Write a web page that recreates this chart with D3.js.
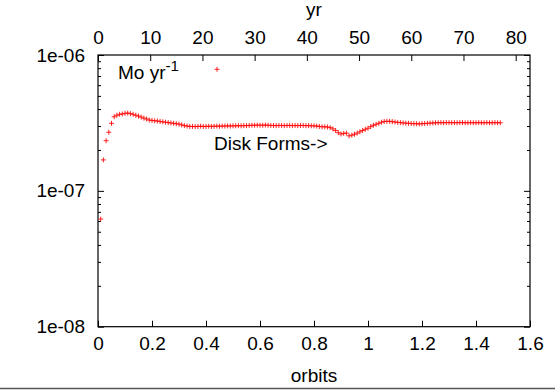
<!DOCTYPE html>
<html>
<head>
<meta charset="utf-8">
<script src="https://cdn.jsdelivr.net/npm/d3@7"></script>
<style>
  html, body { margin: 0; padding: 0; background: #fff; }
  svg { display: block; }
  text { font-family: "Liberation Sans", Arial, Helvetica, sans-serif; fill: #000; }
</style>
</head>
<body>
<div id="chart"></div>
<script>
// ---- data ----
const orbits = [
  0.01,0.02,0.03,0.04,0.05,0.06,0.07,0.08,0.09,0.10,
  0.11,0.12,0.13,0.14,0.15,0.16,0.17,0.18,0.19,0.20,
  0.21,0.22,0.23,0.24,0.25,0.26,0.27,0.28,0.29,0.30,
  0.31,0.32,0.33,0.34,0.35,0.36,0.37,0.38,0.39,0.40,
  0.41,0.42,0.43,0.44,0.45,0.46,0.47,0.48,0.49,0.50,
  0.51,0.52,0.53,0.54,0.55,0.56,0.57,0.58,0.59,0.60,
  0.61,0.62,0.63,0.64,0.65,0.66,0.67,0.68,0.69,0.70,
  0.71,0.72,0.73,0.74,0.75,0.76,0.77,0.78,0.79,0.80,
  0.81,0.82,0.83,0.84,0.85,0.86,0.87,0.88,0.89,0.90,
  0.91,0.92,0.93,0.94,0.95,0.96,0.97,0.98,0.99,1.00,
  1.01,1.02,1.03,1.04,1.05,1.06,1.07,1.08,1.09,1.10,
  1.11,1.12,1.13,1.14,1.15,1.16,1.17,1.18,1.19,1.20,
  1.21,1.22,1.23,1.24,1.25,1.26,1.27,1.28,1.29,1.30,
  1.31,1.32,1.33,1.34,1.35,1.36,1.37,1.38,1.39,1.40,
  1.41,1.42,1.43,1.44,1.45,1.46,1.47,1.48,1.49
];
// accretion rate in units of 1e-7 Mo/yr
const mdotE7 = [
  0.62,1.69,2.34,2.70,3.14,3.51,3.60,3.66,3.68,3.72,
  3.74,3.70,3.66,3.60,3.55,3.49,3.43,3.38,3.32,3.30,
  3.28,3.27,3.24,3.22,3.20,3.18,3.16,3.14,3.12,3.10,
  3.06,3.02,3.00,2.98,2.98,2.97,2.98,2.99,2.98,2.98,
  2.99,2.98,2.99,3.00,2.99,3.00,3.00,3.01,3.00,3.01,
  3.01,3.02,3.01,3.02,3.02,3.03,3.04,3.04,3.05,3.04,
  3.04,3.05,3.04,3.03,3.03,3.02,3.03,3.03,3.02,3.03,
  3.03,3.02,3.03,3.02,3.03,3.03,3.02,3.02,3.01,3.01,
  3.00,2.98,2.96,2.96,2.95,2.92,2.86,2.78,2.68,2.62,
  2.65,2.66,2.54,2.57,2.61,2.66,2.72,2.78,2.84,2.89,
  2.97,3.04,3.09,3.14,3.20,3.24,3.25,3.25,3.23,3.21,
  3.19,3.18,3.16,3.15,3.14,3.13,3.12,3.12,3.11,3.12,
  3.13,3.14,3.15,3.16,3.17,3.17,3.18,3.17,3.18,3.18,
  3.17,3.18,3.17,3.18,3.18,3.17,3.17,3.18,3.17,3.17,
  3.18,3.17,3.17,3.18,3.17,3.17,3.18,3.17,3.17
];
const unit = 1e-7;
const xTicks = [0, 0.2, 0.4, 0.6, 0.8, 1, 1.2, 1.4, 1.6];
const x2Ticks = [0, 10, 20, 30, 40, 50, 60, 70, 80];
const yTicks = [1e-8, 1e-7, 1e-6];
const yTickLabels = ["1e-08", "1e-07", "1e-06"];
const xDomain = [0, 1.6];
const x2Domain = [0, 82.74];
const yDomain = [1e-8, 1e-6];
const xLabel = "orbits";
const x2Label = "yr";
const keyText = "Mo yr";
const keySup = "-1";
const annotation = "Disk Forms->";

// ---- layout ----
const W = 555, H = 390;
const L = 98, R = 530, T = 55, B = 326.7;
const FS = 19;

const svg = d3.select("#chart").append("svg").attr("width", W).attr("height", H);

const x = d3.scaleLinear().domain(xDomain).range([L, R]);
const x2 = d3.scaleLinear().domain(x2Domain).range([L, R]);
const y = d3.scaleLog().domain(yDomain).range([B, T]);

// minor log ticks
const yMinor = [];
[1e-8, 1e-7].forEach(d => { for (let k = 2; k <= 9; k++) yMinor.push(d * k); });

function styleAxis(g) {
  g.select(".domain").remove();
  g.selectAll(".tick line").attr("stroke", "#000").attr("stroke-width", 1);
  g.selectAll(".tick text").attr("font-size", FS).attr("fill", "#000")
    .attr("font-family", '"Liberation Sans", Arial, Helvetica, sans-serif');
}

// bottom axis
svg.append("g").attr("transform", `translate(0,${B})`)
  .call(d3.axisBottom(x).tickValues(xTicks).tickSizeInner(-6).tickSizeOuter(0).tickPadding(10)
    .tickFormat(d3.format("~g")))
  .call(styleAxis);

// top axis
svg.append("g").attr("transform", `translate(0,${T})`)
  .call(d3.axisTop(x2).tickValues(x2Ticks).tickSizeInner(-6).tickSizeOuter(0).tickPadding(11.5)
    .tickFormat(d3.format("d")))
  .call(styleAxis);

// left axis major + minor
svg.append("g").attr("transform", `translate(${L},0)`)
  .call(d3.axisLeft(y).tickValues(yTicks).tickSizeInner(-6).tickSizeOuter(0).tickPadding(13)
    .tickFormat((d, i) => yTickLabels[i]))
  .call(styleAxis);
svg.append("g").attr("transform", `translate(${L},0)`)
  .call(d3.axisLeft(y).tickValues(yMinor).tickSizeInner(-3).tickSizeOuter(0).tickFormat(""))
  .call(styleAxis);

// right axis major + minor (mirror)
svg.append("g").attr("transform", `translate(${R},0)`)
  .call(d3.axisRight(y).tickValues(yTicks).tickSizeInner(-6).tickSizeOuter(0).tickFormat(""))
  .call(styleAxis);
svg.append("g").attr("transform", `translate(${R},0)`)
  .call(d3.axisRight(y).tickValues(yMinor).tickSizeInner(-3).tickSizeOuter(0).tickFormat(""))
  .call(styleAxis);

// frame
svg.append("rect").attr("x", L).attr("y", T).attr("width", R - L).attr("height", B - T)
  .attr("fill", "none").attr("stroke", "#000").attr("stroke-width", 1.2);

// axis labels
svg.append("text").attr("x", (L + R) / 2).attr("y", 382).attr("text-anchor", "middle")
  .attr("font-size", FS).text(xLabel);
svg.append("text").attr("x", (L + R) / 2).attr("y", 15.5).attr("text-anchor", "middle")
  .attr("font-size", FS).text(x2Label);

// points
const cross = (cx, cy, s) => `M${cx - s},${cy}H${cx + s}M${cx},${cy - s}V${cy + s}`;
const data = orbits.map((o, i) => ({ o, v: mdotE7[i] * unit }));
svg.append("g").selectAll("path").data(data).join("path")
  .attr("d", d => cross(x(d.o), y(d.v), 2.5))
  .attr("stroke", "#ff0000").attr("stroke-width", 1).attr("stroke-opacity", 0.85)
  .attr("fill", "none");

// key
const key = svg.append("text").attr("x", 118).attr("y", 79).attr("font-size", FS);
key.append("tspan").text(keyText);
key.append("tspan").attr("font-size", FS * 0.8).attr("dy", -8).text(keySup);
svg.append("path").attr("d", cross(217, 69.3, 2.5))
  .attr("stroke", "#ff0000").attr("stroke-width", 1).attr("stroke-opacity", 0.85);

// annotation
svg.append("text").attr("x", 214).attr("y", 149.5).attr("font-size", FS).text(annotation);

// bottom window border line
svg.append("line").attr("x1", 0).attr("x2", W).attr("y1", 388.5).attr("y2", 388.5)
  .attr("stroke", "#555").attr("stroke-width", 1.5);
</script>
</body>
</html>
